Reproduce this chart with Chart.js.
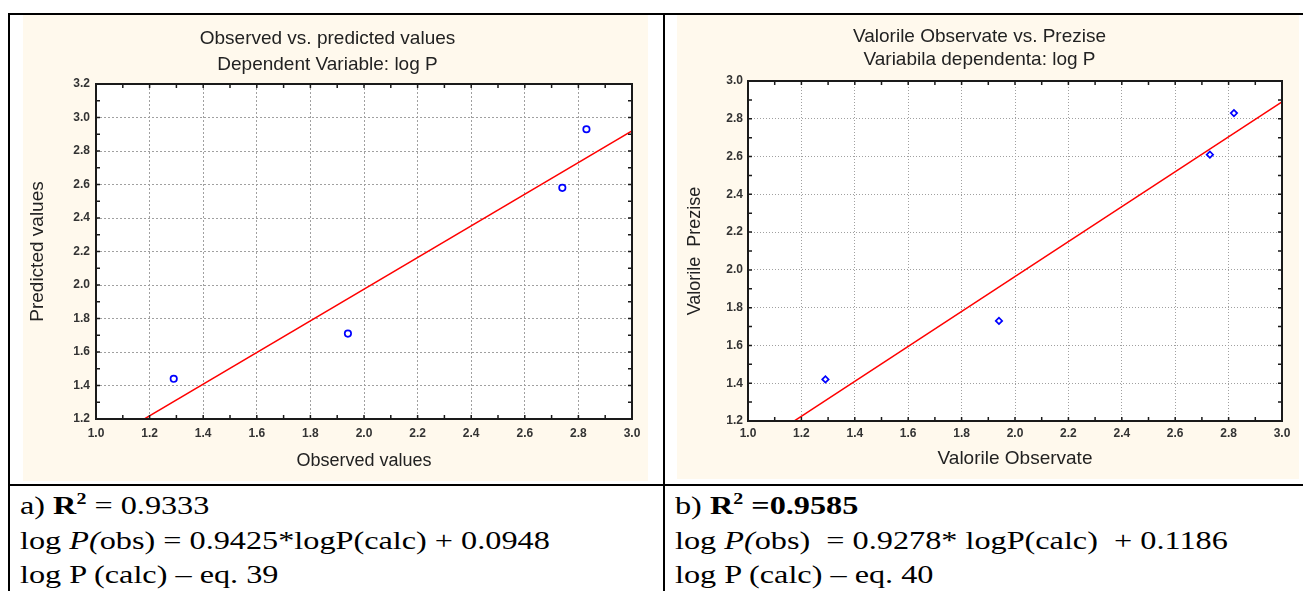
<!DOCTYPE html>
<html>
<head>
<meta charset="utf-8">
<script src="https://cdn.jsdelivr.net/npm/chart.js@4.4.1/dist/chart.umd.min.js"></script>
<style>
  body { margin: 0; width: 1303px; height: 591px; background: #fff; position: relative; overflow: hidden;
         font-family: 'Liberation Serif', 'Times New Roman', serif; }
  .rule { position: absolute; background: #000; }
  .panel { position: absolute; background: #fff9ed; }
  .cap { position: absolute; top: 489px; font-size: 26px; line-height: 34.5px; white-space: pre; color: #000;
         transform: scaleX(1.24); transform-origin: 0 0; }
  .cap sup { font-size: 0.62em; line-height: 0; vertical-align: 0.6em; }
</style>
</head>
<body>
<div class="panel" style="left:23px;top:15px;width:625px;height:466px"><canvas id="chartA"></canvas></div>
<div class="panel" style="left:677px;top:15px;width:622px;height:464px"><canvas id="chartB"></canvas></div>

<div class="rule" style="left:8px;top:13px;width:1295px;height:2px"></div>
<div class="rule" style="left:8px;top:13px;width:2px;height:578px"></div>
<div class="rule" style="left:663px;top:13px;width:2px;height:578px"></div>
<div class="rule" style="left:8px;top:484px;width:1295px;height:2px"></div>

<div class="cap" style="left:20px">a) <b>R<sup>2</sup></b> = 0.9333
log <i>P(</i>obs) = 0.9425*logP(calc) + 0.0948
log P (calc) – eq. 39</div>
<div class="cap" style="left:675px">b) <b>R<sup>2</sup> =0.9585</b>
log <i>P(</i>obs)  = 0.9278* logP(calc)  + 0.1186
log P (calc) – eq. 40</div>

<script>
// chart a) – eq. 39
const titleA = ['Observed vs. predicted values', 'Dependent Variable: log P'];
const xTitleA = 'Observed values';
const yTitleA = 'Predicted values';
const observedA = [1.29, 1.94, 2.74, 2.83];
const predictedA = [1.44, 1.71, 2.58, 2.93];
const fitXA = [1.0, 3.0];
const fitYA = [1.03, 2.92];
const xRangeA = [1.0, 3.0];
const yRangeA = [1.2, 3.2];

// chart b) – eq. 40
const titleB = ['Valorile Observate vs. Prezise', 'Variabila dependenta: log P'];
const xTitleB = 'Valorile Observate';
const yTitleB = 'Valorile  Prezise';
const observedB = [1.29, 1.94, 2.73, 2.82];
const predictedB = [1.42, 1.73, 2.61, 2.83];
const fitXB = [1.0, 3.0];
const fitYB = [1.04, 2.89];
const xRangeB = [1.0, 3.0];
const yRangeB = [1.2, 3.0];

const tickStep = 0.2;
const minorStep = 0.1;

Chart.defaults.font.family = "'Liberation Sans', Arial, sans-serif";
Chart.defaults.color = '#222';

// white plot area, black frame and small inward tick marks on all four sides
const framePlugin = {
  id: 'frame',
  beforeDraw(chart) {
    const { ctx, chartArea: a } = chart;
    ctx.save();
    ctx.fillStyle = '#fff';
    ctx.fillRect(a.left, a.top, a.right - a.left, a.bottom - a.top);
    ctx.restore();
  },
  afterDraw(chart) {
    const { ctx, chartArea: a, scales: { x, y } } = chart;
    ctx.save();
    ctx.strokeStyle = '#1a1a1a';
    ctx.lineWidth = 1.5;
    ctx.beginPath();
    const nx = Math.round((x.max - x.min) / minorStep);
    for (let i = 0; i <= nx; i++) {
      const px = x.getPixelForValue(x.min + i * minorStep);
      ctx.moveTo(px, a.bottom); ctx.lineTo(px, a.bottom - 4);
      ctx.moveTo(px, a.top); ctx.lineTo(px, a.top + 4);
    }
    const ny = Math.round((y.max - y.min) / minorStep);
    for (let i = 0; i <= ny; i++) {
      const py = y.getPixelForValue(y.min + i * minorStep);
      ctx.moveTo(a.left, py); ctx.lineTo(a.left + 4, py);
      ctx.moveTo(a.right, py); ctx.lineTo(a.right - 4, py);
    }
    ctx.stroke();
    ctx.lineWidth = 2;
    ctx.strokeRect(a.left, a.top, a.right - a.left, a.bottom - a.top);
    ctx.restore();
  }
};

function makeChart(id, cfg) {
  const points = cfg.xs.map((v, i) => ({ x: v, y: cfg.ys[i] }));
  const fit = cfg.fitX.map((v, i) => ({ x: v, y: cfg.fitY[i] }));
  return new Chart(document.getElementById(id), {
    type: 'scatter',
    data: {
      datasets: [
        {
          data: points,
          pointStyle: cfg.marker,
          pointRadius: 3.2,
          pointBorderWidth: 1.7,
          borderColor: '#0000ff',
          backgroundColor: '#ffffff',
          order: 0
        },
        {
          data: fit,
          showLine: true,
          pointRadius: 0,
          borderColor: '#ff0000',
          borderWidth: 1.5,
          order: 1
        }
      ]
    },
    options: {
      responsive: true,
      maintainAspectRatio: false,
      animation: false,
      events: [],
      layout: { padding: { right: cfg.padRight } },
      plugins: {
        legend: { display: false },
        tooltip: { enabled: false },
        title: {
          display: true,
          text: cfg.title,
          color: '#222',
          font: { size: 19, weight: 'normal', lineHeight: cfg.titleLine },
          padding: cfg.titlePad
        }
      },
      scales: {
        x: {
          type: 'linear',
          min: cfg.xRange[0],
          max: cfg.xRange[1],
          ticks: { stepSize: tickStep, padding: cfg.xTickPad, font: { size: 12, weight: 'bold' }, color: '#333',
                   callback: v => v.toFixed(1) },
          grid: { color: '#a0a0a0', lineWidth: 1, drawTicks: false },
          border: { display: false, dash: cfg.dash },
          title: { display: true, text: cfg.xTitle, color: '#222', font: { size: cfg.xTitleSize },
                   padding: { top: 0, bottom: cfg.xTitlePad } },
          afterFit: s => { s.height = cfg.xHeight; }
        },
        y: {
          type: 'linear',
          min: cfg.yRange[0],
          max: cfg.yRange[1],
          ticks: { stepSize: tickStep, padding: cfg.yTickPad, font: { size: 12, weight: 'bold' }, color: '#333',
                   callback: v => v.toFixed(1) },
          grid: { color: '#a0a0a0', lineWidth: 1, drawTicks: false },
          border: { display: false, dash: cfg.dash },
          title: { display: true, text: cfg.yTitle, color: '#222', font: { size: cfg.yTitleSize },
                   padding: { top: cfg.yTitlePad, bottom: 0 } },
          afterFit: s => { s.width = cfg.yWidth; }
        }
      }
    },
    plugins: [framePlugin]
  });
}

makeChart('chartA', {
  xs: observedA, ys: predictedA, fitX: fitXA, fitY: fitYA,
  xRange: xRangeA, yRange: yRangeA,
  title: titleA, xTitle: xTitleA, yTitle: yTitleA,
  marker: 'circle', dash: [2, 2],
  titleLine: 26 / 19, titlePad: { top: 11, bottom: 6 },
  padRight: 16, xHeight: 62, yWidth: 73,
  xTickPad: 7, yTickPad: 6, xTitlePad: 9, yTitlePad: 3,
  xTitleSize: 18, yTitleSize: 19
});

makeChart('chartB', {
  xs: observedB, ys: predictedB, fitX: fitXB, fitY: fitYB,
  xRange: xRangeB, yRange: yRangeB,
  title: titleB, xTitle: xTitleB, yTitle: yTitleB,
  marker: 'rectRot', dash: [1, 2],
  titleLine: 23 / 19, titlePad: { top: 10, bottom: 10 },
  padRight: 17, xHeight: 58, yWidth: 71,
  xTickPad: 5, yTickPad: 5, xTitlePad: 9, yTitlePad: 7,
  xTitleSize: 19, yTitleSize: 18
});
</script>
</body>
</html>
